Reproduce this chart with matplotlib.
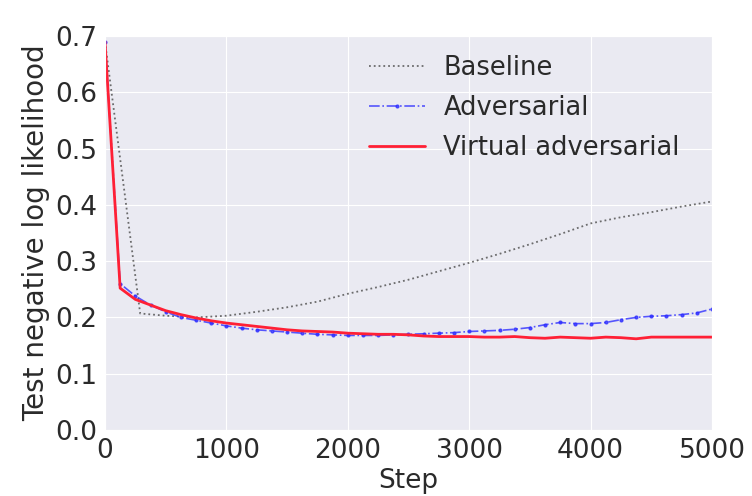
import matplotlib
matplotlib.use("Agg")
import matplotlib.pyplot as plt
import seaborn as sns

# --- values ---
steps = [0, 125, 250, 375, 500, 625, 750, 875, 1000, 1125, 1250, 1375, 1500,
         1625, 1750, 1875, 2000, 2125, 2250, 2375, 2500, 2625, 2750, 2875,
         3000, 3125, 3250, 3375, 3500, 3625, 3750, 3875, 4000, 4125, 4250,
         4375, 4500, 4625, 4750, 4875, 5000]

baseline_steps = [0, 290, 500, 750, 1000, 1250, 1500, 1750, 2000, 2250, 2500,
                  2750, 3000, 3250, 3500, 3750, 4000, 4250, 4500, 4750, 5000]
baseline = [0.69, 0.207, 0.203, 0.200, 0.203, 0.210, 0.218, 0.228, 0.242,
            0.254, 0.267, 0.282, 0.297, 0.313, 0.330, 0.348, 0.367, 0.378,
            0.387, 0.397, 0.406]

adversarial = [0.69, 0.260, 0.238, 0.222, 0.210, 0.200, 0.195, 0.190, 0.185,
               0.181, 0.178, 0.176, 0.174, 0.172, 0.170, 0.169, 0.168, 0.168,
               0.168, 0.169, 0.170, 0.171, 0.172, 0.173, 0.175, 0.176, 0.177,
               0.179, 0.182, 0.187, 0.191, 0.189, 0.189, 0.191, 0.196, 0.200,
               0.202, 0.203, 0.205, 0.208, 0.215]

virtual_adv = [0.69, 0.252, 0.232, 0.222, 0.212, 0.205, 0.199, 0.194, 0.190,
               0.187, 0.184, 0.181, 0.178, 0.176, 0.175, 0.174, 0.172, 0.171,
               0.170, 0.170, 0.169, 0.167, 0.166, 0.166, 0.166, 0.165, 0.165,
               0.166, 0.164, 0.163, 0.165, 0.164, 0.163, 0.165, 0.164, 0.162,
               0.165, 0.165, 0.165, 0.165, 0.165]

x_ticks = [0, 1000, 2000, 3000, 4000, 5000]
y_ticks = [0.0, 0.1, 0.2, 0.3, 0.4, 0.5, 0.6, 0.7]

sns.set_style("darkgrid")
plt.rcParams["font.family"] = ["DejaVu Sans"]

fig = plt.figure(figsize=(7.52, 4.96), dpi=100)
ax = fig.add_axes([0.1396, 0.1331, 0.8072, 0.7943])

ax.plot(baseline_steps, baseline, linestyle=":", color="#555555", lw=1.3,
        alpha=0.85, label="Baseline")
ax.plot(steps, adversarial, linestyle="-.", color="#3030ff", lw=1.2,
        marker=".", markersize=4, alpha=0.8, label="Adversarial")
ax.plot(steps, virtual_adv, linestyle="-", color="#ff2035", lw=2.0,
        label="Virtual adversarial")

ax.set_xlim(0, 5000)
ax.set_ylim(0, 0.7)
ax.set_xticks(x_ticks)
ax.set_yticks(y_ticks)
ax.set_yticklabels([f"{v:.1f}" for v in y_ticks])
ax.tick_params(labelsize=19, colors="#2a2a2a", pad=2)
ax.set_xlabel("Step", fontsize=19, color="#2a2a2a", labelpad=3)
ax.set_ylabel("Test negative log likelihood", fontsize=20, color="#2a2a2a",
              labelpad=4)

leg = ax.legend(loc="upper right", bbox_to_anchor=(0.985, 1.01), fontsize=18.5,
                frameon=False, handlelength=2.2, handletextpad=0.7,
                labelspacing=0.55)
for t in leg.get_texts():
    t.set_color("#2a2a2a")

fig.savefig("out.png", dpi=100)
